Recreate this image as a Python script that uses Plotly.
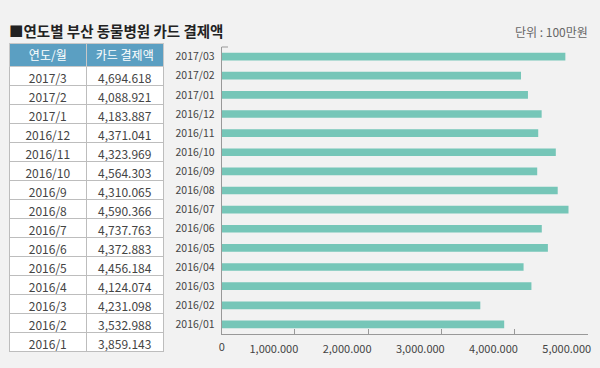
import plotly.graph_objects as go

months = ["2016/01","2016/02","2016/03","2016/04","2016/05","2016/06","2016/07","2016/08",
          "2016/09","2016/10","2016/11","2016/12","2017/01","2017/02","2017/03"]
table_months = ["2016/1","2016/2","2016/3","2016/4","2016/5","2016/6","2016/7","2016/8",
                "2016/9","2016/10","2016/11","2016/12","2017/1","2017/2","2017/3"]
values = [3859143, 3532988, 4231098, 4124074, 4456184, 4372883, 4737763, 4590366,
          4310065, 4564303, 4323969, 4371041, 4183887, 4088921, 4694618]
table_values = ["3,859.143","3,532.988","4,231.098","4,124.074","4,456.184","4,372.883",
                "4,737.763","4,590.366","4,310.065","4,564.303","4,323.969","4,371.041",
                "4,183.887","4,088.921","4,694.618"]
tick_vals = [0, 1000000, 2000000, 3000000, 4000000, 5000000]
tick_text = ["0", "1,000.000", "2,000.000", "3,000.000", "4,000.000", "5,000.000"]

W, H = 600, 368
BG = "#f2f2f2"
FONT = "Noto Sans CJK KR"
X_DOMAIN = [221.7 / W, 587.7 / W]
X_RANGE = [0, 5000000]

fig = go.Figure()

fig.add_trace(go.Table(
    domain=dict(x=[9 / W, 163 / W], y=[0, 1 - 43 / H]),
    columnwidth=[77, 76],
    header=dict(values=["연도/월", "카드\u00a0결제액"],
                fill_color="#5b9fc2", line_color="#c8c8c8",
                font=dict(color="white", size=12, family=FONT),
                align="center", height=23),
    cells=dict(values=[table_months[::-1], table_values[::-1]],
               fill_color="white", line_color="#bdbdbd",
               font=dict(color="#444444", size=12, family=FONT),
               align="center", height=19),
))

fig.add_trace(go.Bar(
    x=values, y=months, orientation="h",
    marker=dict(color="#76c6b8", line=dict(width=0)),
    width=0.4, showlegend=False, hoverinfo="x+y",
))
# invisible helper trace on the secondary x axis (carries the unshifted "0" label)
fig.add_trace(go.Scatter(x=[0], y=[months[0]], xaxis="x2", mode="markers",
                         marker=dict(opacity=0), showlegend=False, hoverinfo="skip"))

axis_font = dict(size=11, color="#444444", family=FONT)
fig.update_layout(
    width=W, height=H,
    margin=dict(l=0, r=0, t=0, b=0, autoexpand=False),
    paper_bgcolor=BG, plot_bgcolor=BG,
    font=dict(family=FONT, color="#444444", size=11),
    xaxis=dict(domain=X_DOMAIN, range=X_RANGE,
               tickvals=tick_vals[1:], ticktext=tick_text[1:],
               tickangle=0, automargin=False, ticklabelshift=-21,
               ticklabeloverflow="allow", ticklabelstandoff=5,
               showgrid=False, zeroline=False, showline=True,
               linecolor="#999999", linewidth=1,
               ticks="inside", ticklen=5, tickcolor="#999999",
               tickfont=axis_font),
    xaxis2=dict(domain=X_DOMAIN, range=X_RANGE, overlaying="x", anchor="y",
                side="bottom", tickvals=tick_vals[:1], ticktext=tick_text[:1],
                tickangle=0, automargin=False, ticklabelstandoff=5,
                showgrid=False, zeroline=False, showline=False,
                ticks="", tickfont=axis_font),
    yaxis=dict(domain=[1 - 334 / H, 1 - 47 / H], range=[-0.5, 14.5],
               type="category", categoryorder="array", categoryarray=months,
               automargin=False,
               showgrid=False, zeroline=False, showline=True,
               linecolor="#999999", linewidth=1, ticks="",
               ticklabelstandoff=4,
               tickfont=dict(size=10.5, color="#444444", family=FONT)),
    annotations=[
        dict(text="<b>■연도별 부산 동물병원 카드 결제액</b>", x=7 / W, y=1 - 30 / H,
             xref="paper", yref="paper", xanchor="left", yanchor="middle",
             showarrow=False, font=dict(size=14.5, color="#222222", family=FONT)),
        dict(text="단위 : 100만원", x=590 / W, y=1 - 32 / H,
             xref="paper", yref="paper", xanchor="right", yanchor="middle",
             showarrow=False, font=dict(size=12, color="#666666", family=FONT)),
    ],
    shapes=[
        dict(type="line", xref="paper", yref="paper",
             x0=221.7 / W, x1=228 / W, y0=1 - 47 / H, y1=1 - 47 / H,
             line=dict(color="#999999", width=1)),
    ],
)

fig.write_html("out.html",
               config={"displayModeBar": False},
               post_script="document.body.style.margin='0';"
                           "document.body.style.overflow='hidden';"
                           "document.body.style.background='#f2f2f2';")
